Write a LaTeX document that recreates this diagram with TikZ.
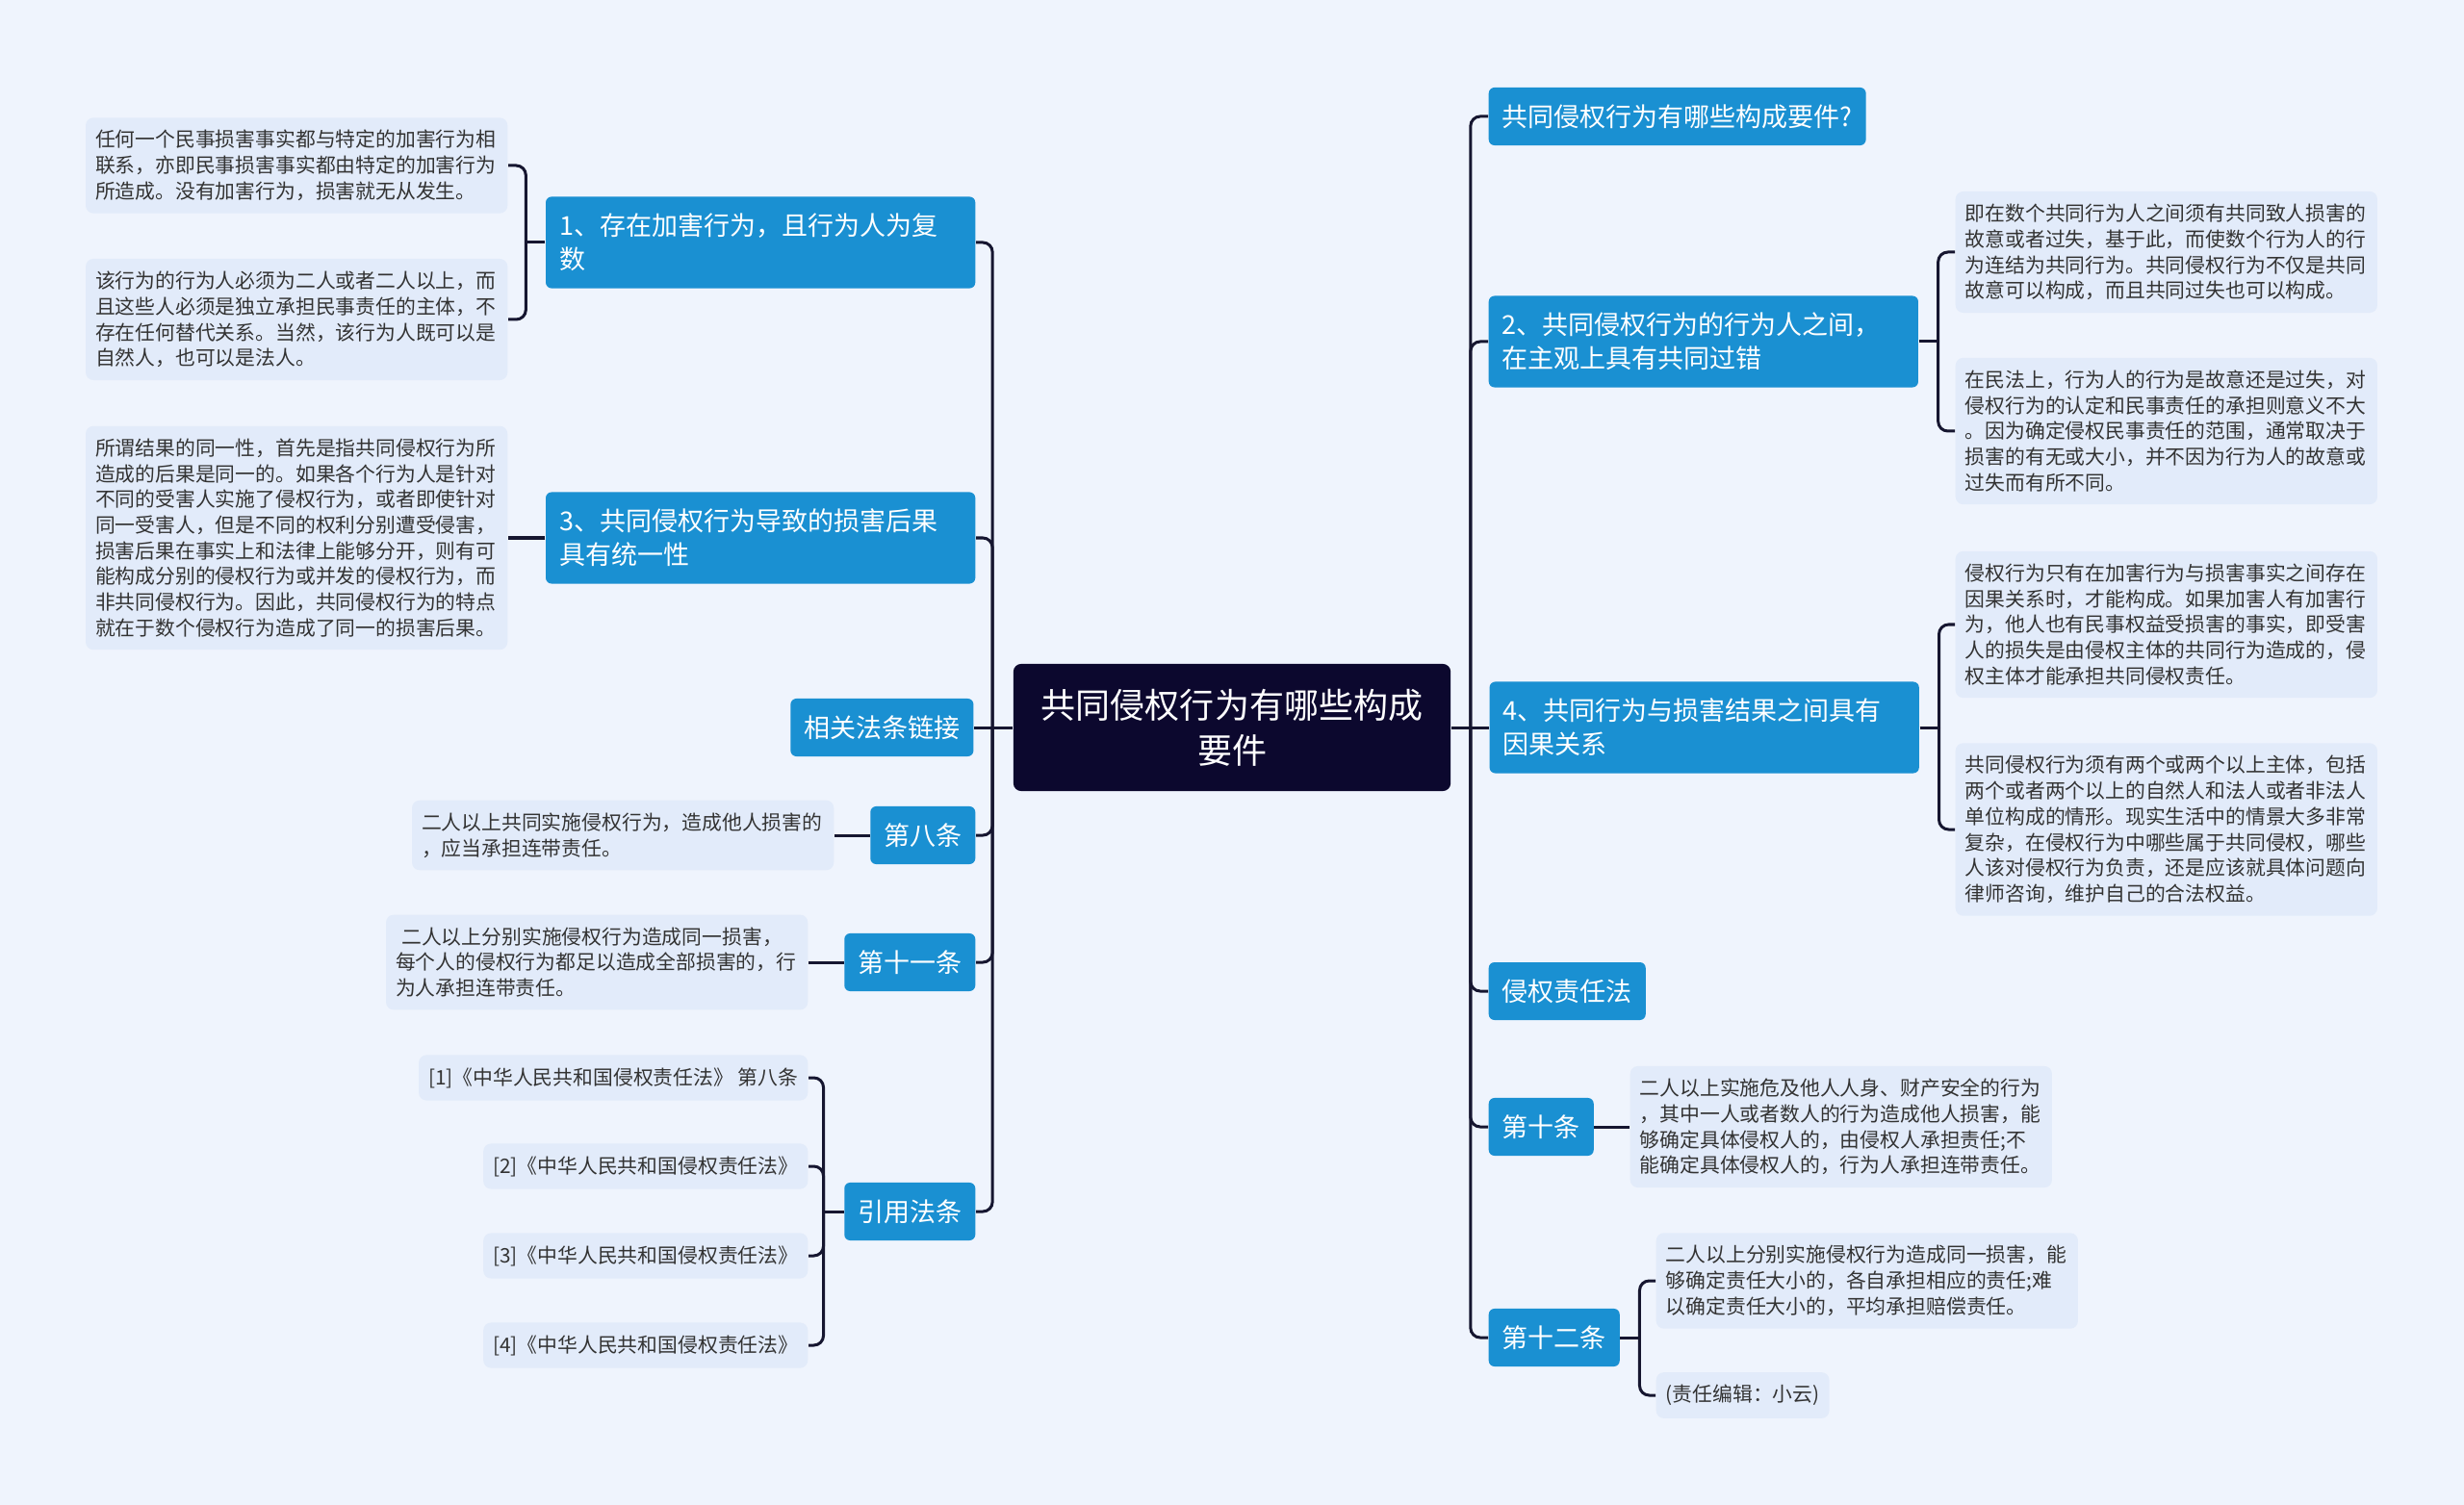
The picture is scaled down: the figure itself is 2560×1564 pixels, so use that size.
\documentclass[tikz,border=0pt]{standalone}
\usepackage{fontspec}
\usepackage{tikz}
\usetikzlibrary{positioning, calc}
\newfontfamily\cjk{Noto Sans CJK SC}
\definecolor{mapbg}{RGB}{239,244,253}
\definecolor{mapnavy}{RGB}{12,8,46}
\definecolor{mapblue}{RGB}{26,144,210}
\definecolor{mapleaf}{RGB}{226,235,250}
\definecolor{mapline}{RGB}{22,22,48}
\definecolor{leaftext}{RGB}{51,51,51}
\tikzset{
  rootbox/.style={
    rectangle, rounded corners=0.08cm, minimum width=4.54cm, minimum height=1.32cm,
    fill=mapnavy, text=white, align=center,
    font={\cjk\fontsize{10.24}{13.4}\selectfont}
  },
  topicbox/.style={
    rectangle, rounded corners=0.06cm, inner xsep=0.14cm, inner ysep=0.175cm,
    fill=mapblue, text=white,
    font={\cjk\fontsize{7.68}{9.96}\selectfont}
  },
  topicwide/.style={topicbox, text width=4.18cm, align=left},
  leafbox/.style={
    rectangle, rounded corners=0.08cm, inner xsep=0.1cm, inner ysep=0.13cm,
    fill=mapleaf, text=leaftext,
    font={\cjk\fontsize{5.92}{7.6}\selectfont}
  },
  leafwide/.style={leafbox, text width=4.18cm, align=left},
  link/.style={draw=mapline, line width=0.03cm, rounded corners=0.1cm}
}

\begin{document}
\begin{tikzpicture}[x=0.01cm, y=-0.01cm]
  \fill[mapbg] (0,0) rectangle (2560,1564);
  \useasboundingbox (0,0) rectangle (2560,1564);

  % Centre
  \node[rootbox] (root) at (1280,756) {共同侵权行为有哪些构成\\要件};

  % Left topics
  \node[topicwide, anchor=east] (l1) at (1014,252)
    {1、存在加害行为，且行为人为复\\数};
  \node[topicwide, anchor=east] (l3) at (1014,559)
    {3、共同侵权行为导致的损害后果\\具有统一性};
  \node[topicbox, left=0.4cm of root] (l4) {相关法条链接};
  \node[topicbox, anchor=east] (l5) at (1014,868) {第八条};
  \node[topicbox, anchor=east] (l6) at (1014,1000) {第十一条};
  \node[topicbox, anchor=east] (l7) at (1014,1259) {引用法条};

  % Right topics
  \node[topicbox, anchor=west] (r1) at (1546,121) {共同侵权行为有哪些构成要件?};
  \node[topicwide, anchor=west] (r2) at (1546,355)
    {2、共同侵权行为的行为人之间，\\在主观上具有共同过错};
  \node[topicwide, right=0.39cm of root] (r4)
    {4、共同行为与损害结果之间具有\\因果关系};
  \node[topicbox, anchor=west] (r5) at (1546,1030) {侵权责任法};
  \node[topicbox, anchor=west] (r6) at (1546,1171) {第十条};
  \node[topicbox, anchor=west] (r7) at (1546,1390) {第十二条};

  % Left leaves
  \node[leafwide, anchor=east] (l1a) at (528,172)
    {任何一个民事损害事实都与特定的加害行为相\\联系，亦即民事损害事实都由特定的加害行为\\所造成。没有加害行为，损害就无从发生。};
  \node[leafwide, anchor=east] (l1b) at (528,332)
    {该行为的行为人必须为二人或者二人以上，而\\且这些人必须是独立承担民事责任的主体，不\\存在任何替代关系。当然，该行为人既可以是\\自然人，也可以是法人。};
  \node[leafwide, anchor=east] (l3a) at (528,559)
    {所谓结果的同一性，首先是指共同侵权行为所\\造成的后果是同一的。如果各个行为人是针对\\不同的受害人实施了侵权行为，或者即使针对\\同一受害人，但是不同的权利分别遭受侵害，\\损害后果在事实上和法律上能够分开，则有可\\能构成分别的侵权行为或并发的侵权行为，而\\非共同侵权行为。因此，共同侵权行为的特点\\就在于数个侵权行为造成了同一的损害后果。};
  \node[leafwide, anchor=east] (l5a) at (867,868)
    {二人以上共同实施侵权行为，造成他人损害的\\，应当承担连带责任。};
  \node[leafwide, anchor=east] (l6a) at (840,1000)
    {\hspace*{0.3em}二人以上分别实施侵权行为造成同一损害，\\每个人的侵权行为都足以造成全部损害的，行\\为人承担连带责任。};
  \node[leafbox, anchor=east] (l7a) at (840,1120) {[1]《中华人民共和国侵权责任法》 第八条};
  \node[leafbox, anchor=east] (l7b) at (840,1212) {[2]《中华人民共和国侵权责任法》};
  \node[leafbox, anchor=east] (l7c) at (840,1305) {[3]《中华人民共和国侵权责任法》};
  \node[leafbox, anchor=east] (l7d) at (840,1398) {[4]《中华人民共和国侵权责任法》};

  % Right leaves
  \node[leafwide, anchor=west] (r2a) at (2031,262)
    {即在数个共同行为人之间须有共同致人损害的\\故意或者过失，基于此，而使数个行为人的行\\为连结为共同行为。共同侵权行为不仅是共同\\故意可以构成，而且共同过失也可以构成。};
  \node[leafwide, anchor=west] (r2b) at (2031,448)
    {在民法上，行为人的行为是故意还是过失，对\\侵权行为的认定和民事责任的承担则意义不大\\。因为确定侵权民事责任的范围，通常取决于\\损害的有无或大小，并不因为行为人的故意或\\过失而有所不同。};
  \node[leafwide, anchor=west] (r4a) at (2031,649)
    {侵权行为只有在加害行为与损害事实之间存在\\因果关系时，才能构成。如果加害人有加害行\\为，他人也有民事权益受损害的事实，即受害\\人的损失是由侵权主体的共同行为造成的，侵\\权主体才能承担共同侵权责任。};
  \node[leafwide, anchor=west] (r4b) at (2031,862)
    {共同侵权行为须有两个或两个以上主体，包括\\两个或者两个以上的自然人和法人或者非法人\\单位构成的情形。现实生活中的情景大多非常\\复杂，在侵权行为中哪些属于共同侵权，哪些\\人该对侵权行为负责，还是应该就具体问题向\\律师咨询，维护自己的合法权益。};
  \node[leafwide, anchor=west] (r6a) at (1693,1171)
    {二人以上实施危及他人人身、财产安全的行为\\，其中一人或者数人的行为造成他人损害，能\\够确定具体侵权人的，由侵权人承担责任;不\\能确定具体侵权人的，行为人承担连带责任。};
  \node[leafwide, anchor=west] (r7a) at (1720,1331)
    {二人以上分别实施侵权行为造成同一损害，能\\够确定责任大小的，各自承担相应的责任;难\\以确定责任大小的，平均承担赔偿责任。};
  \node[leafbox, anchor=west] (r7b) at (1720,1450) {(责任编辑：小云)};

  % Spines
  \coordinate (lspine) at ([xshift=-0.21cm]root.west);
  \coordinate (rspine) at ([xshift=0.2cm]root.east);
  \draw[link] (root.west) -- (lspine);
  \draw[link] (root.east) -- (rspine);
  \foreach \n in {l1,l3,l5,l6,l7}
    \draw[link] (lspine) |- (\n.east);
  \draw[link] (lspine) -- (l4.east);
  \foreach \n in {r1,r2,r5,r6,r7}
    \draw[link] (rspine) |- (\n.west);
  \draw[link] (rspine) -- (r4.west);

  % Forks
  \coordinate (l1fork) at ([xshift=-0.2cm]l1.west);
  \draw[link] (l1.west) -- (l1fork);
  \draw[link] (l1fork) |- (l1a.east);
  \draw[link] (l1fork) |- (l1b.east);
  \coordinate (l7fork) at ([xshift=-0.21cm]l7.west);
  \draw[link] (l7.west) -- (l7fork);
  \foreach \n in {l7a,l7b,l7c,l7d}
    \draw[link] (l7fork) |- (\n.east);
  \coordinate (r2fork) at ([xshift=0.2cm]r2.east);
  \draw[link] (r2.east) -- (r2fork);
  \draw[link] (r2fork) |- (r2a.west);
  \draw[link] (r2fork) |- (r2b.west);
  \coordinate (r4fork) at ([xshift=0.2cm]r4.east);
  \draw[link] (r4.east) -- (r4fork);
  \draw[link] (r4fork) |- (r4a.west);
  \draw[link] (r4fork) |- (r4b.west);
  \coordinate (r7fork) at ([xshift=0.2cm]r7.east);
  \draw[link] (r7.east) -- (r7fork);
  \draw[link] (r7fork) |- (r7a.west);
  \draw[link] (r7fork) |- (r7b.west);

  % Single leaves
  \draw[link] (l3.west) -- (l3a.east);
  \draw[link] (l5.west) -- (l5a.east);
  \draw[link] (l6.west) -- (l6a.east);
  \draw[link] (r6.east) -- (r6a.west);
\end{tikzpicture}
\end{document}
